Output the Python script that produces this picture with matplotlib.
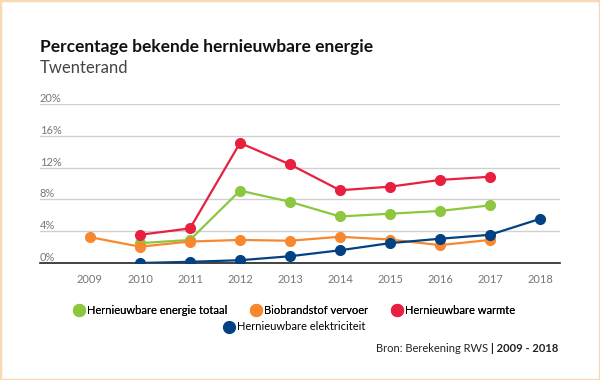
import matplotlib
matplotlib.use("Agg")
import matplotlib.pyplot as plt
from matplotlib.lines import Line2D
from matplotlib.patches import Rectangle

years = [2009, 2010, 2011, 2012, 2013, 2014, 2015, 2016, 2017, 2018]
totaal = [None, 2.5, 2.9, 9.1, 7.7, 5.85, 6.2, 6.55, 7.25, None]
bio = [3.25, 2.05, 2.7, 2.9, 2.8, 3.3, 2.95, 2.25, 2.9, None]
warmte = [None, 3.55, 4.35, 15.1, 12.4, 9.15, 9.6, 10.45, 10.85, None]
elek = [None, 0.0, 0.15, 0.35, 0.85, 1.6, 2.5, 3.05, 3.55, 5.55]
series_names = ["Hernieuwbare energie totaal", "Biobrandstof vervoer",
                "Hernieuwbare warmte", "Hernieuwbare elektriciteit"]
yticks = [0, 4, 8, 12, 16, 20]

colors = ["#8dc63f", "#f7882f", "#e8203f", "#034282"]
font = "Lato"
plt.rcParams['font.family'] = [font, 'DejaVu Sans']

fig = plt.figure(figsize=(6, 3.8), dpi=100)
fig.patches.append(Rectangle((0, 0), 1, 1, transform=fig.transFigure,
                             fill=False, edgecolor="#f9d9b2", linewidth=2.5))

ax = fig.add_axes([40/600, 1-263/380, 520/600, (263-104)/380])
ax.set_xlim(2008, 2018.4)
ax.set_ylim(0, 20)

for vals, c in zip([totaal, bio, warmte, elek], colors):
    xs = [y for y, v in zip(years, vals) if v is not None]
    ys = [v for v in vals if v is not None]
    ax.plot(xs, ys, color=c, lw=1.6, marker='o', markersize=7, zorder=3)

for t in yticks[1:]:
    ax.axhline(t, color="#d0d0d0", lw=1, zorder=1)
for t in yticks:
    ax.text(0.0, t, f"{t}%", transform=ax.get_yaxis_transform(),
            ha='left', va='bottom', fontsize=8, color="#777777")
for s in ['top', 'right', 'left']:
    ax.spines[s].set_visible(False)
ax.spines['bottom'].set_color('#222222')
ax.spines['bottom'].set_linewidth(1.2)
ax.set_yticks([])
ax.set_xticks(years)
ax.set_xticklabels([str(y) for y in years], fontsize=8, color="#777777")
ax.tick_params(axis='x', length=0, pad=8)

fig.text(40/600, 1-47/380, "Percentage bekende hernieuwbare energie",
         fontsize=12.5, fontweight='bold', va='center', ha='left', color='#111111')
fig.text(40/600, 1-68/380, "Twenterand", fontsize=12, fontweight='normal',
         va='center', ha='left', color='#444444')

handles = [Line2D([], [], color=c, marker='o', linestyle='', markersize=8.5) for c in colors]
leg1 = fig.legend(handles[:3], series_names[:3], loc='center', ncol=3,
                  bbox_to_anchor=(293/600, 1-310/380), frameon=False, fontsize=8,
                  handletextpad=0.0, columnspacing=1.8, handlelength=1.5)
fig.add_artist(leg1)
fig.legend(handles[3:], series_names[3:], loc='center', ncol=1,
           bbox_to_anchor=(293/600, 1-327/380), frameon=False, fontsize=8,
           handletextpad=0.0, handlelength=1.5)

fig.text(558/600, 1-349/380, "Bron: Berekening RWS ", fontsize=8,
         ha='right', va='center', color='#222222')
t = fig.text(558/600, 1-349/380, "| 2009 - 2018", fontsize=8, fontweight='bold',
             ha='right', va='center', color='#222222')
fig.canvas.draw()
bb = t.get_window_extent()
fig.texts[-2].set_x(bb.x0 / fig.bbox.width)

fig.savefig("out.png", dpi=100)
